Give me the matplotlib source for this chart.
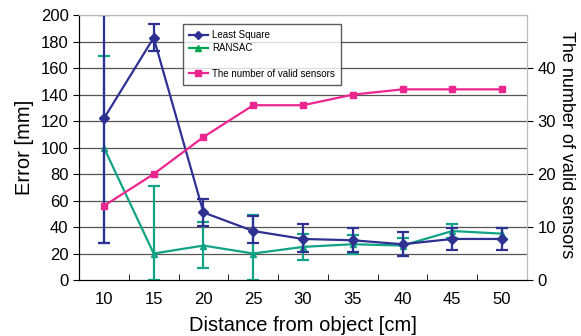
import matplotlib
matplotlib.use("Agg")
import matplotlib.pyplot as plt
from matplotlib.lines import Line2D
import numpy as np

plt.rcParams['font.family'] = ['Liberation Sans', 'DejaVu Sans']

distances = ['10', '15', '20', '25', '30', '35', '40', '45', '50']
ls_vals = [122, 183, 51, 37, 31, 30, 27, 31, 31]
ls_err_low = [94, 10, 10, 9, 10, 9, 9, 8, 8]
ls_err_up = [78, 10, 10, 11, 11, 9, 9, 8, 8]
ransac_vals = [100, 20, 26, 20, 25, 27, 26, 37, 35]
ransac_err_low = [72, 20, 17, 20, 10, 7, 8, 5, 4]
ransac_err_up = [69, 51, 18, 29, 10, 7, 6, 5, 4]
sensors = [14, 20, 27, 33, 33, 35, 36, 36, 36]

c_ls = '#2E3192'
c_ra = '#12A386'
c_pk = '#EC268F'

fig = plt.figure(figsize=(5.81, 3.36), dpi=100)
ax = fig.add_axes([0.136, 0.1667, 0.771, 0.788])
x = np.arange(len(distances))

for yv in range(20, 201, 20):
    ax.axhline(yv, color='#555555' if yv < 200 else '#bbbbbb', lw=0.9, zorder=0)

ax.errorbar(x, ls_vals, yerr=[ls_err_low, ls_err_up], color=c_ls, marker='D',
            markersize=5, lw=1.6, capsize=4, capthick=1.6, elinewidth=1.6, zorder=4)
ax.errorbar(x, ransac_vals, yerr=[ransac_err_low, ransac_err_up], color=c_ra, marker='^',
            markersize=5, lw=1.6, capsize=4, capthick=1.6, elinewidth=1.6, zorder=3)

ax.set_xlim(-0.5, len(distances) - 0.5)
ax.set_ylim(0, 200)
ax.set_yticks(range(0, 201, 20))
ax.set_xticks(x)
ax.set_xticklabels(distances)
ax.set_xticks(np.arange(0.5, len(distances) - 0.5, 1), minor=True)
ax.tick_params(axis='x', which='major', length=0, pad=9, labelsize=12)
ax.tick_params(axis='x', which='minor', direction='in', length=4)
ax.tick_params(axis='y', direction='out', length=4, labelsize=12)
ax.set_xlabel('Distance from object [cm]', fontsize=14.5, labelpad=6)
ax.set_ylabel('Error [mm]', fontsize=14.5, labelpad=5)
ax.spines['top'].set_color('#bbbbbb')
ax.spines['right'].set_color('#bbbbbb')

ax2 = ax.twinx()
ax2.plot(x, sensors, color=c_pk, marker='s', markersize=5, lw=1.6, zorder=5)
ax2.set_ylim(0, 50)
ax2.set_yticks([0, 10, 20, 30, 40])
ax2.tick_params(axis='y', direction='out', length=4, labelsize=12)
ax2.set_ylabel('The number of valid sensors', fontsize=13, rotation=270)
ax2.yaxis.set_label_coords(1.107, 0.51)
ax2.spines['top'].set_color('#bbbbbb')
ax2.spines['right'].set_color('#bbbbbb')

handles = [
    Line2D([], [], color=c_ls, marker='D', markersize=4, lw=1.6),
    Line2D([], [], color='#00A651', marker='^', markersize=4, lw=1.6),
    Line2D([], [], color='none'),
    Line2D([], [], color=c_pk, marker='s', markersize=4, lw=1.6),
]
labels = ['Least Square', 'RANSAC', '', 'The number of valid sensors']
leg = ax2.legend(handles, labels, loc='upper left', bbox_to_anchor=(0.232, 0.966),
                 borderaxespad=0, fontsize=7, frameon=True, fancybox=False,
                 handlelength=2.0, borderpad=0.6, labelspacing=0.3, handletextpad=0.4)
leg.get_frame().set_edgecolor('#333333')
leg.get_frame().set_linewidth(1.0)
leg.set_zorder(10)

fig.savefig('out.png', dpi=100)
